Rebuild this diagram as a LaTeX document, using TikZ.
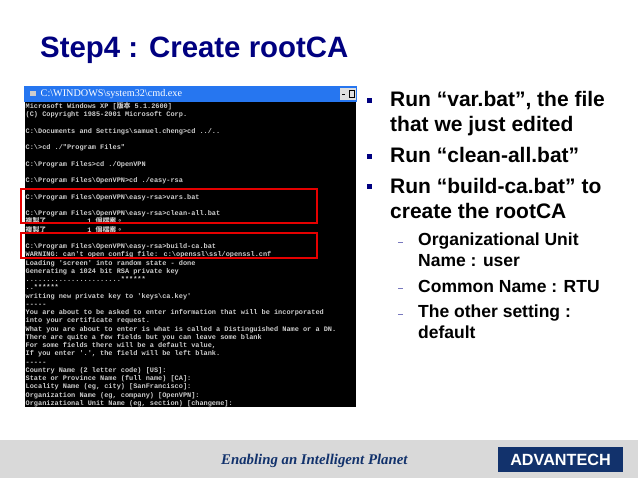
\documentclass[tikz,border=0pt]{standalone}
\usepackage{fontspec}
\setmainfont{Liberation Sans}
\newfontfamily\termfont{Liberation Mono}
\newfontfamily\serffont{Liberation Serif}
\newfontfamily\cjkfont{Noto Sans CJK TC}
\usepackage{tikz}
\usetikzlibrary{positioning}
\definecolor{titlenavy}{RGB}{0,0,128}
\definecolor{bandgray}{RGB}{217,217,217}
\definecolor{logonavy}{RGB}{18,50,108}
\definecolor{barblue}{RGB}{38,118,240}
\definecolor{termwhite}{RGB}{205,205,205}
\definecolor{subdash}{RGB}{120,120,190}
\newcommand{\bs}{\textbackslash{}}
\newcommand{\easyrsa}{C:\bs Program Files\bs OpenVPN\bs easy-rsa>}

\begin{document}
\begin{tikzpicture}[x=1pt,y=-1pt,
    termline/.style={anchor=base west,inner sep=0pt,text=termwhite,font=\termfont\bfseries\fontsize{6.9}{8}\selectfont},
    bigtext/.style={anchor=base west,inner sep=0pt,align=left,font=\bfseries\fontsize{21}{25.5}\selectfont},
    subtext/.style={anchor=base west,inner sep=0pt,align=left,font=\bfseries\fontsize{17.5}{21}\selectfont},
    bullet/.style={fill=titlenavy,inner sep=0pt,minimum size=5pt},
    subbullet/.style={fill=subdash,inner sep=0pt,minimum width=5pt,minimum height=1pt},
    redbox/.style={draw=red!90!black,line width=1.8pt}]
      \useasboundingbox (0,0) rectangle (638,478);
      \fill[white] (0,0) rectangle (638,478);
      \fill[bandgray] (0,440) rectangle (638,478);

      \node[anchor=base west,inner sep=0pt,text=titlenavy,font=\bfseries\fontsize{29.4}{30}\selectfont] (title) at (40,58) {Step4 : Create rootCA};

      \fill[barblue] (24,86) rectangle (357,102);
      \fill[black] (25,102) rectangle (356,407);
      \fill[gray!40] (30,91) rectangle (36,96);
      \node[anchor=base west,inner sep=0pt,text=white,font=\serffont\fontsize{10.2}{12}\selectfont] (cmdname) at (40.5,97) {C:\bs WINDOWS\bs system32\bs cmd.exe};
      \fill[gray!25] (340,88) rectangle (347.5,100);
      \fill[gray!25] (348,88) rectangle (356,100);
      \fill[black] (342,94) rectangle (345,95.5);
      \draw[black,line width=.8pt] (349.5,90.5) rectangle (354.5,97.5);

      \foreach \idx/\txt in {0/{Microsoft Windows XP [{\cjkfont 版本} 5.1.2600]},
          1/{(C) Copyright 1985-2001 Microsoft Corp.},
          3/{C:\bs Documents and Settings\bs samuel.cheng>cd ../..},
          5/{C:\bs >cd ./"Program Files"},
          7/{C:\bs Program Files>cd ./OpenVPN},
          9/{C:\bs Program Files\bs OpenVPN>cd ./easy-rsa},
          11/{\easyrsa vars.bat},
          13/{\easyrsa clean-all.bat},
          14/{{\cjkfont 複製了}\hspace{41pt}1 {\cjkfont 個檔案。}},
          15/{{\cjkfont 複製了}\hspace{41pt}1 {\cjkfont 個檔案。}},
          17/{\easyrsa build-ca.bat},
          18/{WARNING: can't open config file: c:\bs openssl\bs ssl/openssl.cnf},
          19/{Loading 'screen' into random state - done},
          20/{Generating a 1024 bit RSA private key},
          21/{.......................******},
          22/{..******},
          23/{writing new private key to 'keys\bs ca.key'},
          24/{-----},
          25/{You are about to be asked to enter information that will be incorporated},
          26/{into your certificate request.},
          27/{What you are about to enter is what is called a Distinguished Name or a DN.},
          28/{There are quite a few fields but you can leave some blank},
          29/{For some fields there will be a default value,},
          30/{If you enter '.', the field will be left blank.},
          31/{-----},
          32/{Country Name (2 letter code) [US]:},
          33/{State or Province Name (full name) [CA]:},
          34/{Locality Name (eg, city) [SanFrancisco]:},
          35/{Organization Name (eg, company) [OpenVPN]:},
          36/{Organizational Unit Name (eg, section) [changeme]:}}
        \node[termline] (line\idx) at (25.5,{108.3+8.25*\idx}) {\txt};

      \draw[redbox] (21,189) rectangle (317,223);
      \draw[redbox] (21,233) rectangle (317,258);

      \node[bullet] (bulletvar) at (369.5,101) {};
      \node[bullet] (bulletclean) at (369.5,157) {};
      \node[bullet] (bulletbuild) at (369.5,187) {};
      \node[bigtext] (runvar) at (390,132) {Run “var.bat”, the file\\that we just edited};
      \node[bigtext] (runclean) at (390,163) {Run “clean-all.bat”};
      \node[bigtext] (runbuild) at (390,219) {Run “build-ca.bat” to\\create the rootCA};

      \node[subbullet] (dashunit) at (400.5,242.5) {};
      \node[subbullet] (dashcommon) at (400.5,288.5) {};
      \node[subbullet] (dashother) at (400.5,314.5) {};
      \node[subtext] (unitname) at (418,267) {Organizational Unit\\Name : user};
      \node[subtext] (commonname) at (418,292.5) {Common Name : RTU};
      \node[subtext] (othersetting) at (418,339) {The other setting :\\default};

      \node[anchor=base west,inner sep=0pt,text=logonavy,font=\serffont\bfseries\itshape\fontsize{14.8}{16}\selectfont] (slogan) at (221,464.5) {Enabling an Intelligent Planet};
      \node[fill=logonavy,inner sep=0pt,minimum width=125pt,minimum height=25pt,text=white,font=\bfseries\fontsize{16.2}{18}\selectfont] (logo) at (560.5,459.5) {ADVANTECH};
    \end{tikzpicture}
\end{document}
